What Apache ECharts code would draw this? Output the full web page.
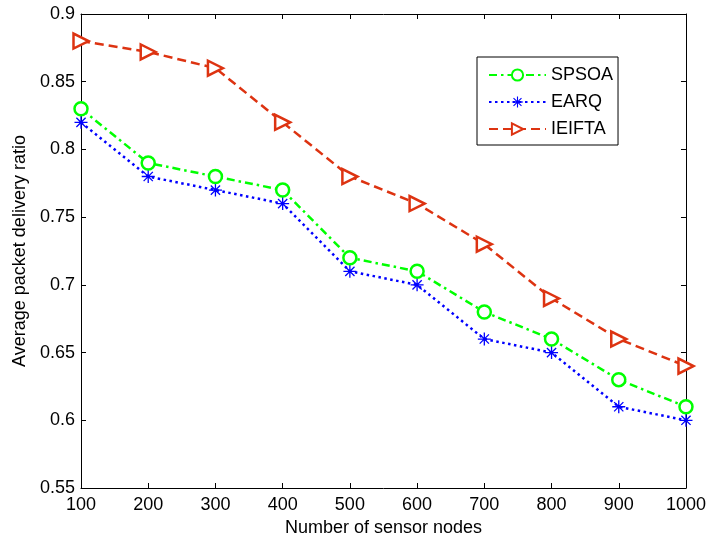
<!DOCTYPE html>
<html lang="en">
<head>
    <meta charset="UTF-8">
    <title>Average packet delivery ratio</title>
    <script src="https://cdn.jsdelivr.net/npm/echarts@6/dist/echarts.min.js"></script>
    <style>
        body { margin: 0; background: #fff; }
        #main { width: 709px; height: 542px; }
    </style>
</head>
<body>
<div id="main"></div>
<script type="text/javascript">
    var nodes = [100, 200, 300, 400, 500, 600, 700, 800, 900, 1000];
    var spsoa = [0.83, 0.79, 0.78, 0.77, 0.72, 0.71, 0.68, 0.66, 0.63, 0.61];
    var earq = [0.82, 0.78, 0.77, 0.76, 0.71, 0.70, 0.66, 0.65, 0.61, 0.60];
    var ieifta = [0.88, 0.872, 0.86, 0.82, 0.78, 0.76, 0.73, 0.69, 0.66, 0.64];

    function pairs(ys) {
        return nodes.map(function (x, i) { return [x, ys[i]]; });
    }

    // asterisk marker, like matlab '*'
    var star = 'path://M9,0h2v20h-2z M0,9h20v2h-20z M2.2,3.6l1.4,-1.4l14.2,14.2l-1.4,1.4z M16.4,2.2l1.4,1.4l-14.2,14.2l-1.4,-1.4z';

    var font = 'Liberation Sans, Arial, sans-serif';
    var tick = { show: true, inside: true, length: 5, lineStyle: { color: '#000' } };

    var myChart = echarts.init(document.getElementById('main'));
    myChart.setOption({
        animation: false,
        grid: { left: 81, right: 19, top: 14, bottom: 50 },
        legend: {
            orient: 'vertical',
            left: 477, top: 57,
            padding: [9, 5, 7, 11],
            itemGap: 9,
            itemWidth: 57, itemHeight: 14,
            borderColor: '#000', borderWidth: 1,
            backgroundColor: '#fff',
            textStyle: { fontFamily: font, fontSize: 18, color: '#000' },
            data: ['SPSOA', 'EARQ', 'IEIFTA']
        },
        xAxis: [{
            type: 'value', min: 100, max: 1000, interval: 100,
            name: 'Number of sensor nodes', nameLocation: 'middle', nameGap: 31,
            nameTextStyle: { fontFamily: font, fontSize: 18, color: '#000' },
            axisLine: { lineStyle: { color: '#000', width: 1 } },
            axisTick: tick,
            axisLabel: {
                fontFamily: font, fontSize: 18, color: '#000', margin: 8,
                formatter: function (v) { return String(v); }
            },
            splitLine: { show: false }
        }, {
            type: 'value', position: 'top', min: 100, max: 1000, interval: 100,
            axisLine: { show: true, lineStyle: { color: '#000', width: 1 } },
            axisTick: tick, axisLabel: { show: false }, splitLine: { show: false }
        }],
        yAxis: [{
            type: 'value', min: 0.55, max: 0.9, interval: 0.05,
            name: 'Average packet delivery ratio', nameLocation: 'middle', nameGap: 48,
            nameTextStyle: { fontFamily: font, fontSize: 18, color: '#000' },
            axisLine: { show: true, lineStyle: { color: '#000', width: 1 } },
            axisTick: tick,
            axisLabel: {
                fontFamily: font, fontSize: 18, color: '#000', margin: 6,
                formatter: function (v) { return String(+v.toFixed(2)); }
            },
            splitLine: { show: false }
        }, {
            type: 'value', position: 'right', min: 0.55, max: 0.9, interval: 0.05,
            axisLine: { show: true, lineStyle: { color: '#000', width: 1 } },
            axisTick: tick, axisLabel: { show: false }, splitLine: { show: false }
        }],
        series: [{
            name: 'SPSOA', type: 'line', data: pairs(spsoa),
            symbol: 'circle', symbolSize: 13,
            lineStyle: { color: '#00ff00', width: 2.5, type: [8, 4, 2.5, 4] },
            itemStyle: { color: '#fff', borderColor: '#00ff00', borderWidth: 2.5 },
            z: 3
        }, {
            name: 'EARQ', type: 'line', data: pairs(earq),
            symbol: star, symbolSize: 13,
            lineStyle: { color: '#0000ff', width: 2.5, type: [2.5, 3.5] },
            itemStyle: { color: '#0000ff' },
            z: 2
        }, {
            name: 'IEIFTA', type: 'line', data: pairs(ieifta),
            symbol: 'triangle', symbolSize: 15, symbolRotate: -90,
            lineStyle: { color: '#dd3311', width: 2.5, type: [9, 5] },
            itemStyle: { color: '#fff', borderColor: '#dd3311', borderWidth: 2.5 },
            z: 4
        }]
    });
</script>
</body>
</html>
